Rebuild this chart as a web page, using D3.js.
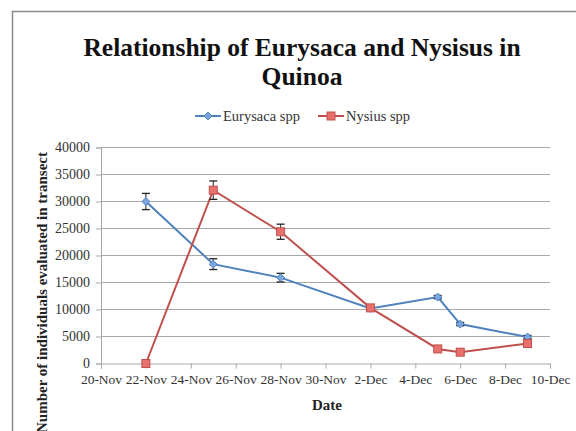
<!DOCTYPE html>
<html><head><meta charset="utf-8">
<script src="https://cdn.jsdelivr.net/npm/d3@7"></script>
<style>body{margin:0;background:#fff}svg{display:block}</style>
</head><body>
<svg id="c" width="576" height="431"></svg>
<script>
const dates = ["2010-11-22","2010-11-25","2010-11-28","2010-12-02","2010-12-05","2010-12-06","2010-12-09"];
const eurysaca = [30000, 18400, 15900, 10200, 12300, 7300, 4900];
const eurysacaErr = [1500, 1000, 800, 300, 300, 300, 300];
const nysius = [0, 32100, 24400, 10300, 2700, 2100, 3700];
const nysiusErr = [300, 1700, 1400, 300, 300, 300, 300];
const yTicks = [0,5000,10000,15000,20000,25000,30000,35000,40000];
const xTickLabels = ["20-Nov","22-Nov","24-Nov","26-Nov","28-Nov","30-Nov","2-Dec","4-Dec","6-Dec","8-Dec","10-Dec"];
const seriesNames = ["Eurysaca spp","Nysius spp"];

const parse = d3.timeParse("%Y-%m-%d");
const svg = d3.select("#c");
const font = "'Liberation Serif', 'DejaVu Serif', serif";

// frame
svg.append("path").attr("d","M12.5,440V11.5H590").attr("fill","none").attr("stroke","#8a8a8a").attr("stroke-width",1.5);

const x = d3.scaleTime().domain([parse("2010-11-20"), parse("2010-12-10")]).range([101, 550]);
const y = d3.scaleLinear().domain([0, 40000]).range([363.5, 147.5]);

// gridlines
svg.append("g").selectAll("line").data(yTicks.slice(1)).join("line")
  .attr("x1",101).attr("x2",550).attr("y1",d=>y(d)).attr("y2",d=>y(d))
  .attr("stroke","#a8a8a8").attr("stroke-width",1.2);

// y axis
const yAxis = d3.axisLeft(y).tickValues(yTicks).tickSize(5).tickPadding(6).tickFormat(d3.format("d"));
const gy = svg.append("g").attr("transform","translate(101,0)").call(yAxis);
gy.select(".domain").attr("stroke","#a8a8a8");
gy.selectAll(".tick line").attr("stroke","#a8a8a8");
gy.selectAll("text").attr("font-family",font).attr("font-size",14).attr("fill","#333");

// x axis
const xTickDates = d3.timeDay.range(parse("2010-11-20"), d3.timeDay.offset(parse("2010-12-10"),1), 2);
const xAxis = d3.axisBottom(x).tickValues(xTickDates).tickSize(5).tickPadding(6)
  .tickFormat((d,i)=>xTickLabels[i]);
const gx = svg.append("g").attr("transform","translate(0,363.5)").call(xAxis);
gx.select(".domain").attr("stroke","#a8a8a8");
gx.selectAll(".tick line").attr("stroke","#a8a8a8");
gx.selectAll("text").attr("font-family",font).attr("font-size",13.5).attr("fill","#333");

// titles
svg.append("text").attr("x",302).attr("y",56).attr("text-anchor","middle")
  .attr("font-family",font).attr("font-weight","bold").attr("font-size",25.5).attr("fill","#111")
  .text("Relationship of Eurysaca and Nysisus in");
svg.append("text").attr("x",302).attr("y",85).attr("text-anchor","middle")
  .attr("font-family",font).attr("font-weight","bold").attr("font-size",25.5).attr("fill","#111")
  .text("Quinoa");
svg.append("text").attr("x",327).attr("y",410).attr("text-anchor","middle")
  .attr("font-family",font).attr("font-weight","bold").attr("font-size",15).attr("fill","#222")
  .text("Date");
svg.append("text").attr("transform","translate(47,152) rotate(-90)").attr("text-anchor","end")
  .attr("font-family",font).attr("font-weight","bold").attr("font-size",15).attr("fill","#222")
  .text("Number of individuals evaluated in transect");

const series = [
  {name: seriesNames[0], vals: eurysaca, err: eurysacaErr, stroke:"#4f81bd", fill:"#7aa7de", shape:"diamond"},
  {name: seriesNames[1], vals: nysius, err: nysiusErr, stroke:"#c0504d", fill:"#e8706c", shape:"square"}
];
const line = d3.line().x(d=>x(d.date)).y(d=>y(d.v));
function marker(g, s, cx, cy){
  if (s.shape==="diamond") {
    g.append("path").attr("d",d3.symbol(d3.symbolDiamond2, 40)()).attr("transform",`translate(${cx},${cy})`)
      .attr("fill",s.fill).attr("stroke",s.stroke).attr("stroke-width",1);
  } else {
    g.append("rect").attr("x",cx-4).attr("y",cy-4).attr("width",8).attr("height",8)
      .attr("fill",s.fill).attr("stroke",s.stroke).attr("stroke-width",1);
  }
}
series.forEach(s=>{
  const pts = dates.map((d,i)=>({date:parse(d), v:s.vals[i], e:s.err[i]}));
  const g = svg.append("g");
  g.append("path").datum(pts).attr("d",line).attr("fill","none").attr("stroke",s.stroke).attr("stroke-width",2);
  pts.forEach(p=>{
    const cx = x(p.date), y1 = y(p.v + p.e), y2 = y(Math.max(0,p.v - p.e));
    g.append("line").attr("x1",cx).attr("x2",cx).attr("y1",y1).attr("y2",y2).attr("stroke","#222").attr("stroke-width",1);
    g.append("line").attr("x1",cx-4).attr("x2",cx+4).attr("y1",y1).attr("y2",y1).attr("stroke","#222").attr("stroke-width",1.3);
    g.append("line").attr("x1",cx-4).attr("x2",cx+4).attr("y1",y2).attr("y2",y2).attr("stroke","#222").attr("stroke-width",1.3);
  });
  pts.forEach(p=>marker(g, s, x(p.date), y(p.v)));
});

// legend
const leg = [{x:195},{x:318}];
series.forEach((s,i)=>{
  const lx = leg[i].x, ly = 116;
  svg.append("line").attr("x1",lx).attr("x2",lx+26).attr("y1",ly).attr("y2",ly).attr("stroke",s.stroke).attr("stroke-width",2);
  marker(svg, s, lx+13, ly);
  svg.append("text").attr("x",lx+28).attr("y",ly+5).attr("font-family",font).attr("font-size",14.5).attr("fill","#333").text(s.name);
});
</script>
</body></html>
